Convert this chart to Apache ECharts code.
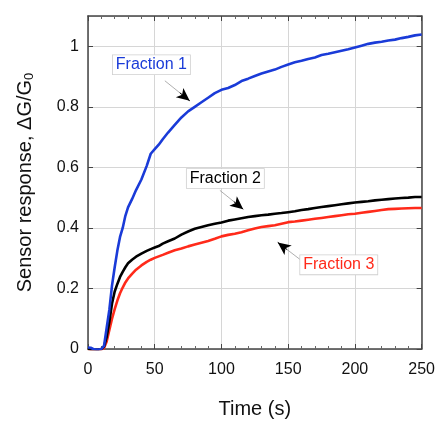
<!DOCTYPE html>
<html>
<head>
<meta charset="utf-8">
<script src="https://cdn.jsdelivr.net/npm/echarts@6/dist/echarts.min.js"></script>
<style>
html,body{margin:0;padding:0;background:#fff;}
#chart{width:438px;height:424px;}
</style>
</head>
<body>
<div id="chart"></div>
<script>
const time = [0,2,4,6,8,10,12,14,16,18,20,22,24,26,28,30,33,36,40,44,47,50,53,56,60,65,70,75,80,85,90,95,100,105,110,115,120,125,130,135,140,145,150,155,160,165,170,175,180,185,190,195,200,205,210,215,220,225,230,235,240,245,250];
const fraction1 = [0.005,0.004,0.0,-0.002,-0.002,0.0,0.01,0.07,0.13,0.21,0.27,0.325,0.37,0.40,0.44,0.468,0.495,0.525,0.56,0.605,0.645,0.66,0.675,0.693,0.715,0.74,0.765,0.785,0.80,0.815,0.83,0.845,0.856,0.862,0.872,0.885,0.893,0.902,0.91,0.917,0.923,0.932,0.94,0.947,0.952,0.958,0.963,0.971,0.975,0.98,0.985,0.99,0.996,1.002,1.008,1.012,1.015,1.019,1.022,1.027,1.031,1.036,1.039];
const fraction2 = [0,-0.002,-0.003,-0.003,-0.002,0.0,0.008,0.04,0.09,0.15,0.19,0.215,0.238,0.255,0.27,0.283,0.295,0.305,0.315,0.324,0.330,0.335,0.34,0.348,0.356,0.365,0.378,0.388,0.397,0.403,0.409,0.414,0.418,0.424,0.428,0.432,0.436,0.439,0.442,0.444,0.447,0.449,0.452,0.455,0.459,0.462,0.466,0.469,0.472,0.475,0.478,0.481,0.484,0.486,0.488,0.491,0.493,0.495,0.497,0.499,0.5,0.502,0.502];
const fraction3 = [0,-0.003,-0.004,-0.004,-0.003,-0.002,0.003,0.025,0.063,0.10,0.132,0.16,0.184,0.203,0.22,0.233,0.248,0.262,0.276,0.288,0.295,0.301,0.306,0.311,0.318,0.326,0.332,0.339,0.345,0.351,0.357,0.364,0.372,0.377,0.381,0.386,0.392,0.398,0.403,0.406,0.409,0.414,0.419,0.421,0.424,0.427,0.43,0.433,0.436,0.439,0.442,0.445,0.447,0.45,0.453,0.456,0.459,0.462,0.463,0.464,0.465,0.466,0.466];
const seriesNames = ['Fraction 1','Fraction 2','Fraction 3'];
// annotation anchors (data coords): label center, arrow start, arrow tip
const labelPos = [[47.5,0.939],[102.9,0.563],[187.9,0.278]];
const arrowStart = [[57.6,0.886],[98.8,0.524],[159.7,0.293]];
const arrowEnd = [[76.2,0.82],[116.3,0.462],[142.2,0.352]];
const colors = ['#1a3bd8','#000000','#ff2a1a'];

const FONT = '"Liberation Sans", Arial, Helvetica, sans-serif';
const values = [fraction1, fraction2, fraction3];

function mkSeries(i){
  const s = arrowStart[i], e = arrowEnd[i];
  const f = 0.6;
  const mid = [s[0] + (e[0]-s[0])*f, s[1] + (e[1]-s[1])*f];
  return {
    name: seriesNames[i],
    type: 'line',
    data: time.map((t,k)=>[t, values[i][k]]),
    showSymbol: false,
    symbol: 'none',
    lineStyle: {color: colors[i], width: 2.6},
    itemStyle: {color: colors[i]},
    z: 3 - i + 2,
    animation: false,
    markLine: {
      silent: true,
      animation: false,
      label: {show: false},
      symbol: ['none','none'],
      data: [
        [{coord: s, lineStyle:{color:'#9a9a9a', width:0.8, type:'solid'}, symbol:'none'},
         {coord: e, symbol:'none'}],
        [{coord: mid, lineStyle:{color:'#000', width:1, type:'solid'}, symbol:'none'},
         {coord: e, symbol:'arrow', symbolSize:[9,13]}]
      ]
    },
    markPoint: {
      silent: true,
      animation: false,
      symbol: 'circle',
      symbolSize: 0,
      data: [{
        coord: labelPos[i],
        label: {
          show: true,
          position: 'inside',
          formatter: seriesNames[i],
          color: colors[i],
          fontSize: 16,
          fontFamily: FONT,
          backgroundColor: '#fff',
          borderColor: '#cfcfcf',
          borderWidth: 0.8,
          padding: [2,3,1,3]
        }
      }]
    }
  };
}

const chart = echarts.init(document.getElementById('chart'), null, {renderer:'canvas'});
const axisLineStyle = {color:'#444', width:1.5};
chart.setOption({
  backgroundColor:'#fff',
  animation:false,
  grid:{left:88, right:16, top:16, bottom:74, show:false},
  xAxis:[{
    type:'value', min:0, max:250, interval:50, position:'bottom',
    axisLine:{show:true, onZero:false, lineStyle:axisLineStyle},
    axisTick:{show:true, inside:true, length:5, lineStyle:{color:'#444'}},
    minorTick:{show:true, splitNumber:5, length:3, lineStyle:{color:'#666'}},
    splitLine:{show:true, lineStyle:{color:'#d6d6d6', width:1}},
    axisLabel:{color:'#111', fontSize:16, fontFamily:FONT, margin:13},
    name:'Time (s)', nameLocation:'middle', nameGap:50,
    nameTextStyle:{color:'#111', fontSize:20, fontFamily:FONT}
  },{
    type:'value', min:0, max:250, interval:50, position:'top',
    axisLine:{show:true, onZero:false, lineStyle:axisLineStyle},
    axisTick:{show:true, inside:true, length:5, lineStyle:{color:'#444'}},
    minorTick:{show:true, splitNumber:5, length:3, lineStyle:{color:'#666'}},
    splitLine:{show:false},
    axisLabel:{show:false}
  }],
  yAxis:[{
    type:'value', min:0, max:1.1, interval:0.2, position:'left',
    axisLine:{show:true, onZero:false, lineStyle:axisLineStyle},
    axisTick:{show:true, inside:true, length:5, lineStyle:{color:'#444'}},
    splitLine:{show:true, lineStyle:{color:'#d6d6d6', width:1}},
    axisLabel:{color:'#111', fontSize:16, fontFamily:FONT, margin:9, showMaxLabel:false, padding:[0,0,14,0]},
    name:'Sensor response, ΔG/G{sub|0}', nameLocation:'middle', nameGap:52,
    nameTextStyle:{color:'#111', fontSize:20, fontFamily:FONT,
      rich:{sub:{fontSize:13, fontFamily:FONT, color:'#111', padding:[8,0,0,0]}}}
  },{
    type:'value', min:0, max:1.1, interval:0.2, position:'right',
    axisLine:{show:true, onZero:false, lineStyle:axisLineStyle},
    axisTick:{show:true, inside:true, length:5, lineStyle:{color:'#444'}},
    splitLine:{show:false},
    axisLabel:{show:false}
  }],
  series:[mkSeries(0), mkSeries(1), mkSeries(2)]
});
</script>
</body>
</html>
